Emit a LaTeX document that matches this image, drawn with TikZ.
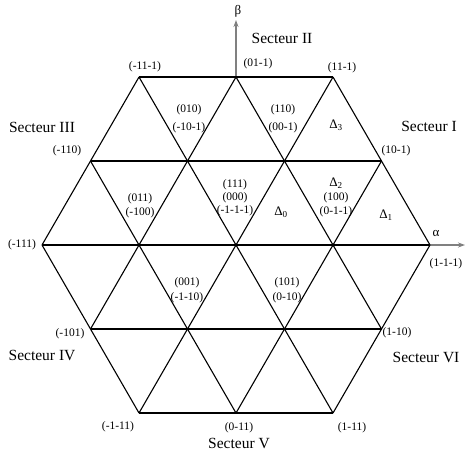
\documentclass[tikz,border=0pt]{standalone}
\usepackage{fontspec}
\setmainfont{Liberation Serif}
\usetikzlibrary{arrows.meta}

\begin{document}
\begin{tikzpicture}[x=1pt,y=-1pt,
	grid/.style={line width=1.1pt,black},
	axis/.style={line width=1.2pt,gray,-{Stealth[length=7pt,width=5pt]}},
	lbl/.style={inner sep=0pt,font=\fontsize{11.5}{14}\selectfont},
	tri/.style={inner sep=0pt,font=\fontsize{13}{15}\selectfont},
	sect/.style={inner sep=0pt,font=\fontsize{15.5}{17}\selectfont}]
			\useasboundingbox (0,0) rectangle (465,453);
			% lattice points
			\coordinate (t1) at (139,77);   \coordinate (t2) at (236,77);   \coordinate (t3) at (333,77);
			\coordinate (u1) at (90.5,161); \coordinate (u2) at (187.5,161);
			\coordinate (u3) at (284.5,161); \coordinate (u4) at (381.5,161);
			\coordinate (m1) at (42,245);   \coordinate (m2) at (139,245);  \coordinate (m3) at (236,245);
			\coordinate (m4) at (333,245);  \coordinate (m5) at (430,245);
			\coordinate (l1) at (90.5,329); \coordinate (l2) at (187.5,329);
			\coordinate (l3) at (284.5,329); \coordinate (l4) at (381.5,329);
			\coordinate (b1) at (139,413);  \coordinate (b2) at (236,413);  \coordinate (b3) at (333,413);
			\coordinate (btip) at (236,20);
			\coordinate (atip) at (465,245);
			% axes
			\draw[axis] (t2) -- (btip);
			\draw[axis] (m5) -- (atip);
			\node[tri] (beta) at (238,11) {β};
			\node[tri] (alpha) at (436,233) {α};
			% triangles
			\draw[grid] (t1) -- (t3) (u1) -- (u4) (m1) -- (m5) (l1) -- (l4) (b1) -- (b3);
			\draw[grid] (m1) -- (t1) (l1) -- (t2) (b1) -- (t3) (b2) -- (u4) (b3) -- (m5);
			\draw[grid] (m5) -- (t3) (l4) -- (t2) (b3) -- (t1) (b2) -- (u1) (b1) -- (m1);
			% sectors
			\node[sect] (s1) at (429,126) {Secteur I};
			\node[sect] (s2) at (282,38) {Secteur II};
			\node[sect] (s3) at (42,127) {Secteur III};
			\node[sect] (s4) at (42,355) {Secteur IV};
			\node[sect] (s5) at (239,443) {Secteur V};
			\node[sect] (s6) at (426,357) {Secteur VI};
			% outer vectors
			\node[lbl] (k1) at (145,67) {(-11-1)};
			\node[lbl] (k2) at (258,64) {(01-1)};
			\node[lbl] (k3) at (342,68) {(11-1)};
			\node[lbl] (k4) at (67,151) {(-110)};
			\node[lbl] (k5) at (396,151) {(10-1)};
			\node[lbl] (k6) at (22,245) {(-111)};
			\node[lbl] (k7) at (446,264) {(1-1-1)};
			\node[lbl] (k8) at (70,334) {(-101)};
			\node[lbl] (k9) at (397,333) {(1-10)};
			\node[lbl] (k10) at (118,427) {(-1-11)};
			\node[lbl] (k11) at (239,428) {(0-11)};
			\node[lbl] (k12) at (352,428) {(1-11)};
			% inner vectors
			\node[lbl,align=center] (i1) at (189,119) {(010)\\[4pt](-10-1)};
			\node[lbl,align=center] (i2) at (283,119) {(110)\\[4pt](00-1)};
			\node[lbl,align=center] (i3) at (140,206) {(011)\\(-100)};
			\node[lbl,align=center] (i4) at (235,198) {(111)\\[-1pt](000)\\[-1pt](-1-1-1)};
			\node[lbl,align=center] (i6) at (187,290) {(001)\\[1pt](-1-10)};
			\node[lbl,align=center] (i7) at (287,290) {(101)\\[1pt](0-10)};
			\node[lbl,align=center] (i5) at (336,205) {(100)\\(0-1-1)};
			% small triangles
			\node[tri] (d0) at (281,212) {Δ\textsubscript{0}};
			\node[tri] (d1) at (386,215) {Δ\textsubscript{1}};
			\node[tri] (d2) at (336,183) {Δ\textsubscript{2}};
			\node[tri] (d3) at (336,125) {Δ\textsubscript{3}};
\end{tikzpicture}
\end{document}
